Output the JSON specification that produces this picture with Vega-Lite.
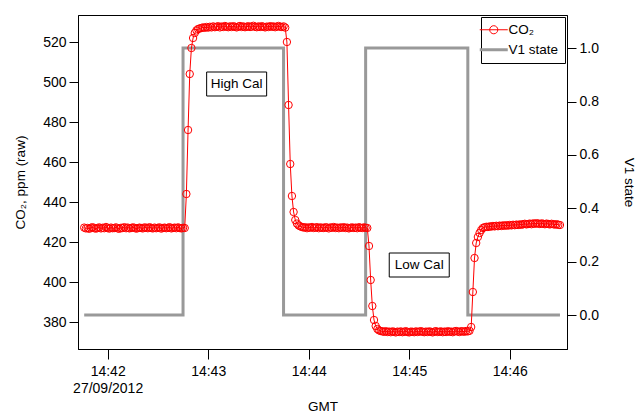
{
  "$schema": "https://vega.github.io/schema/vega-lite/v6.json",
  "width": 489,
  "height": 334,
  "autosize": "none",
  "padding": {"left": 78, "top": 15, "right": 72, "bottom": 66},
  "background": "white",
  "config": {
    "font": "Liberation Sans",
    "view": {"stroke": "#000", "strokeWidth": 1},
    "axis": {
      "grid": false,
      "domainColor": "#000",
      "tickColor": "#000",
      "labelColor": "#000",
      "titleColor": "#000",
      "labelFont": "Liberation Sans",
      "titleFont": "Liberation Sans",
      "labelFontSize": 14,
      "titleFontSize": 13.5,
      "titleFontWeight": "normal",
      "tickSize": 9,
      "labelPadding": 3
    },
    "legend": {
      "labelFont": "Liberation Sans",
      "labelColor": "#000",
      "labelFontSize": 13.5
    }
  },
  "encoding": {
    "x": {
      "field": "t",
      "type": "temporal",
      "title": "GMT",
      "scale": {
        "type": "utc",
        "domain": [
          {"year": 1900, "month": 1, "date": 1, "hours": 14, "minutes": 41, "seconds": 42, "milliseconds": 300, "utc": true},
          {"year": 1900, "month": 1, "date": 1, "hours": 14, "minutes": 46, "seconds": 34, "milliseconds": 200, "utc": true}
        ]
      },
      "axis": {
        "values": [
          {"year": 1900, "month": 1, "date": 1, "hours": 14, "minutes": 42, "utc": true},
          {"year": 1900, "month": 1, "date": 1, "hours": 14, "minutes": 43, "utc": true},
          {"year": 1900, "month": 1, "date": 1, "hours": 14, "minutes": 44, "utc": true},
          {"year": 1900, "month": 1, "date": 1, "hours": 14, "minutes": 45, "utc": true},
          {"year": 1900, "month": 1, "date": 1, "hours": 14, "minutes": 46, "utc": true}
        ],
        "labelExpr": "utcFormat(datum.value, '%H:%M') == '14:42' ? ['14:42', '27/09/2012'] : utcFormat(datum.value, '%H:%M')",
        "tickSize": 10,
        "labelPadding": 5,
        "labelLineHeight": 17,
        "titlePadding": 4
      }
    }
  },
  "layer": [
    {
      "data": {
        "values": [
          {"t": "14:41:46", "v1": 0},
          {"t": "14:42:45", "v1": 1},
          {"t": "14:43:45", "v1": 0},
          {"t": "14:44:34", "v1": 1},
          {"t": "14:45:35", "v1": 0},
          {"t": "14:46:30", "v1": 0}
        ],
        "format": {"parse": {"t": "utc:'%H:%M:%S'"}}
      },
      "mark": {"type": "line", "interpolate": "step-after", "strokeWidth": 3},
      "encoding": {
        "y": {
          "field": "v1",
          "type": "quantitative",
          "scale": {"domain": [-0.127, 1.124], "nice": false, "zero": false},
          "axis": {"orient": "right", "values": [0, 0.2, 0.4, 0.6, 0.8, 1], "format": ".1f", "title": "V1 state", "titlePadding": 23}
        },
        "color": {
          "datum": "V1 state",
          "type": "nominal",
          "scale": {"domain": ["CO₂", "V1 state"], "range": ["#ff0000", "#999999"]},
          "legend": {
            "orient": "top-right",
            "offset": 2,
            "title": null,
            "padding": 6,
            "rowPadding": 5,
            "symbolType": "stroke",
            "symbolSize": 784,
            "labelOffset": 8,
            "encode": {
              "legend": {
                "update": {
                  "stroke": {"value": "#000"},
                  "strokeWidth": {"value": 1},
                  "fill": {"value": "#fff"}
                }
              },
              "symbols": {
                "update": {
                  "shape": {"signal": "datum.value === 'CO₂' ? 'M-1,0H1M0.29,0A0.29,0.29,0,1,1,-0.29,0A0.29,0.29,0,1,1,0.29,0' : 'stroke'"},
                  "strokeWidth": {"signal": "datum.value === 'CO₂' ? 1 : 3"},
                  "fill": {"value": "transparent"}
                }
              }
            }
          }
        }
      }
    },
    {
      "data": {
        "values": [
          {"t": "14:41:46", "co2": 427.2}, {"t": "14:41:47", "co2": 426.8}, {"t": "14:41:48", "co2": 427.0}, {"t": "14:41:49", "co2": 426.6},
          {"t": "14:41:50", "co2": 427.1}, {"t": "14:41:51", "co2": 427.4}, {"t": "14:41:52", "co2": 426.9}, {"t": "14:41:53", "co2": 426.7},
          {"t": "14:41:54", "co2": 427.0}, {"t": "14:41:55", "co2": 427.3}, {"t": "14:41:56", "co2": 426.8}, {"t": "14:41:57", "co2": 427.1},
          {"t": "14:41:58", "co2": 426.9}, {"t": "14:41:59", "co2": 427.5},
          {"t": "14:42:00", "co2": 427.0}, {"t": "14:42:01", "co2": 426.7}, {"t": "14:42:02", "co2": 427.2}, {"t": "14:42:03", "co2": 426.9},
          {"t": "14:42:04", "co2": 427.0}, {"t": "14:42:05", "co2": 427.3}, {"t": "14:42:06", "co2": 426.8}, {"t": "14:42:07", "co2": 426.6},
          {"t": "14:42:08", "co2": 427.1}, {"t": "14:42:09", "co2": 427.0}, {"t": "14:42:10", "co2": 427.4}, {"t": "14:42:11", "co2": 426.9},
          {"t": "14:42:12", "co2": 427.2}, {"t": "14:42:13", "co2": 426.8}, {"t": "14:42:14", "co2": 427.0}, {"t": "14:42:15", "co2": 427.3},
          {"t": "14:42:16", "co2": 427.1}, {"t": "14:42:17", "co2": 426.7}, {"t": "14:42:18", "co2": 426.9}, {"t": "14:42:19", "co2": 427.2},
          {"t": "14:42:20", "co2": 427.0}, {"t": "14:42:21", "co2": 426.8}, {"t": "14:42:22", "co2": 427.3}, {"t": "14:42:23", "co2": 427.1},
          {"t": "14:42:24", "co2": 426.9}, {"t": "14:42:25", "co2": 427.4}, {"t": "14:42:26", "co2": 427.0}, {"t": "14:42:27", "co2": 426.8},
          {"t": "14:42:28", "co2": 427.2}, {"t": "14:42:29", "co2": 426.9}, {"t": "14:42:30", "co2": 427.1}, {"t": "14:42:31", "co2": 427.3},
          {"t": "14:42:32", "co2": 426.7}, {"t": "14:42:33", "co2": 427.0}, {"t": "14:42:34", "co2": 427.2}, {"t": "14:42:35", "co2": 426.9},
          {"t": "14:42:36", "co2": 427.1}, {"t": "14:42:37", "co2": 427.4}, {"t": "14:42:38", "co2": 426.8}, {"t": "14:42:39", "co2": 427.0},
          {"t": "14:42:40", "co2": 427.2}, {"t": "14:42:41", "co2": 426.9}, {"t": "14:42:42", "co2": 427.3}, {"t": "14:42:43", "co2": 427.0},
          {"t": "14:42:44", "co2": 426.8}, {"t": "14:42:45", "co2": 427.1}, {"t": "14:42:46", "co2": 427.0},
          {"t": "14:42:47", "co2": 444.0}, {"t": "14:42:48", "co2": 476.0}, {"t": "14:42:49", "co2": 504.0}, {"t": "14:42:50", "co2": 517.0},
          {"t": "14:42:51", "co2": 522.0}, {"t": "14:42:52", "co2": 524.5}, {"t": "14:42:53", "co2": 525.8}, {"t": "14:42:54", "co2": 526.5},
          {"t": "14:42:55", "co2": 526.8}, {"t": "14:42:56", "co2": 527.0}, {"t": "14:42:57", "co2": 527.3}, {"t": "14:42:58", "co2": 527.1},
          {"t": "14:42:59", "co2": 527.5},
          {"t": "14:43:00", "co2": 527.2}, {"t": "14:43:01", "co2": 527.6}, {"t": "14:43:02", "co2": 527.3}, {"t": "14:43:03", "co2": 527.8},
          {"t": "14:43:04", "co2": 527.4}, {"t": "14:43:05", "co2": 527.6}, {"t": "14:43:06", "co2": 527.9}, {"t": "14:43:07", "co2": 527.3},
          {"t": "14:43:08", "co2": 527.7}, {"t": "14:43:09", "co2": 527.5}, {"t": "14:43:10", "co2": 528.0}, {"t": "14:43:11", "co2": 527.6},
          {"t": "14:43:12", "co2": 527.4}, {"t": "14:43:13", "co2": 527.8}, {"t": "14:43:14", "co2": 527.5}, {"t": "14:43:15", "co2": 527.9},
          {"t": "14:43:16", "co2": 527.6}, {"t": "14:43:17", "co2": 527.3}, {"t": "14:43:18", "co2": 527.7}, {"t": "14:43:19", "co2": 528.0},
          {"t": "14:43:20", "co2": 527.5}, {"t": "14:43:21", "co2": 527.8}, {"t": "14:43:22", "co2": 527.4}, {"t": "14:43:23", "co2": 527.6},
          {"t": "14:43:24", "co2": 527.9}, {"t": "14:43:25", "co2": 527.5}, {"t": "14:43:26", "co2": 527.7}, {"t": "14:43:27", "co2": 528.1},
          {"t": "14:43:28", "co2": 527.6}, {"t": "14:43:29", "co2": 527.4}, {"t": "14:43:30", "co2": 527.8}, {"t": "14:43:31", "co2": 527.5},
          {"t": "14:43:32", "co2": 527.9}, {"t": "14:43:33", "co2": 527.6}, {"t": "14:43:34", "co2": 527.3}, {"t": "14:43:35", "co2": 527.7},
          {"t": "14:43:36", "co2": 527.5}, {"t": "14:43:37", "co2": 527.9}, {"t": "14:43:38", "co2": 527.6}, {"t": "14:43:39", "co2": 527.8},
          {"t": "14:43:40", "co2": 527.4}, {"t": "14:43:41", "co2": 527.7}, {"t": "14:43:42", "co2": 528.0}, {"t": "14:43:43", "co2": 527.6},
          {"t": "14:43:44", "co2": 527.5}, {"t": "14:43:45", "co2": 527.8}, {"t": "14:43:46", "co2": 527.2},
          {"t": "14:43:47", "co2": 520.0}, {"t": "14:43:48", "co2": 488.5}, {"t": "14:43:49", "co2": 459.0}, {"t": "14:43:50", "co2": 443.0},
          {"t": "14:43:51", "co2": 435.0}, {"t": "14:43:52", "co2": 431.0}, {"t": "14:43:53", "co2": 429.2}, {"t": "14:43:54", "co2": 428.3},
          {"t": "14:43:55", "co2": 427.8}, {"t": "14:43:56", "co2": 427.5}, {"t": "14:43:57", "co2": 427.2}, {"t": "14:43:58", "co2": 427.4},
          {"t": "14:43:59", "co2": 426.9},
          {"t": "14:44:00", "co2": 427.3}, {"t": "14:44:01", "co2": 427.1}, {"t": "14:44:02", "co2": 427.5}, {"t": "14:44:03", "co2": 427.0},
          {"t": "14:44:04", "co2": 427.2}, {"t": "14:44:05", "co2": 427.4}, {"t": "14:44:06", "co2": 426.9}, {"t": "14:44:07", "co2": 427.3},
          {"t": "14:44:08", "co2": 427.1}, {"t": "14:44:09", "co2": 427.0}, {"t": "14:44:10", "co2": 427.4}, {"t": "14:44:11", "co2": 427.2},
          {"t": "14:44:12", "co2": 426.8}, {"t": "14:44:13", "co2": 427.3}, {"t": "14:44:14", "co2": 427.1}, {"t": "14:44:15", "co2": 427.5},
          {"t": "14:44:16", "co2": 427.0}, {"t": "14:44:17", "co2": 427.2}, {"t": "14:44:18", "co2": 426.9}, {"t": "14:44:19", "co2": 427.3},
          {"t": "14:44:20", "co2": 427.1}, {"t": "14:44:21", "co2": 427.4}, {"t": "14:44:22", "co2": 427.0}, {"t": "14:44:23", "co2": 427.2},
          {"t": "14:44:24", "co2": 426.8}, {"t": "14:44:25", "co2": 427.1}, {"t": "14:44:26", "co2": 427.3}, {"t": "14:44:27", "co2": 427.0},
          {"t": "14:44:28", "co2": 427.2}, {"t": "14:44:29", "co2": 426.9}, {"t": "14:44:30", "co2": 427.4}, {"t": "14:44:31", "co2": 427.1},
          {"t": "14:44:32", "co2": 427.0}, {"t": "14:44:33", "co2": 427.3}, {"t": "14:44:34", "co2": 427.1}, {"t": "14:44:35", "co2": 427.0},
          {"t": "14:44:36", "co2": 418.0}, {"t": "14:44:37", "co2": 401.0}, {"t": "14:44:38", "co2": 388.0}, {"t": "14:44:39", "co2": 381.0},
          {"t": "14:44:40", "co2": 378.0}, {"t": "14:44:41", "co2": 376.5}, {"t": "14:44:42", "co2": 375.8}, {"t": "14:44:43", "co2": 375.5},
          {"t": "14:44:44", "co2": 375.3}, {"t": "14:44:45", "co2": 375.1}, {"t": "14:44:46", "co2": 375.4}, {"t": "14:44:47", "co2": 375.0},
          {"t": "14:44:48", "co2": 375.2}, {"t": "14:44:49", "co2": 374.9}, {"t": "14:44:50", "co2": 375.3}, {"t": "14:44:51", "co2": 375.1},
          {"t": "14:44:52", "co2": 374.8}, {"t": "14:44:53", "co2": 375.2}, {"t": "14:44:54", "co2": 375.0}, {"t": "14:44:55", "co2": 375.3},
          {"t": "14:44:56", "co2": 374.9}, {"t": "14:44:57", "co2": 375.1}, {"t": "14:44:58", "co2": 375.4}, {"t": "14:44:59", "co2": 375.0},
          {"t": "14:45:00", "co2": 374.8}, {"t": "14:45:01", "co2": 375.2}, {"t": "14:45:02", "co2": 375.1}, {"t": "14:45:03", "co2": 374.9},
          {"t": "14:45:04", "co2": 375.3}, {"t": "14:45:05", "co2": 375.0}, {"t": "14:45:06", "co2": 375.2}, {"t": "14:45:07", "co2": 375.4},
          {"t": "14:45:08", "co2": 375.1}, {"t": "14:45:09", "co2": 374.9}, {"t": "14:45:10", "co2": 375.2}, {"t": "14:45:11", "co2": 375.0},
          {"t": "14:45:12", "co2": 375.3}, {"t": "14:45:13", "co2": 375.1}, {"t": "14:45:14", "co2": 374.8}, {"t": "14:45:15", "co2": 375.2},
          {"t": "14:45:16", "co2": 375.4}, {"t": "14:45:17", "co2": 375.0}, {"t": "14:45:18", "co2": 375.1}, {"t": "14:45:19", "co2": 375.3},
          {"t": "14:45:20", "co2": 374.9}, {"t": "14:45:21", "co2": 375.2}, {"t": "14:45:22", "co2": 375.0}, {"t": "14:45:23", "co2": 375.4},
          {"t": "14:45:24", "co2": 375.1}, {"t": "14:45:25", "co2": 375.2}, {"t": "14:45:26", "co2": 374.9}, {"t": "14:45:27", "co2": 375.3},
          {"t": "14:45:28", "co2": 375.5}, {"t": "14:45:29", "co2": 375.2}, {"t": "14:45:30", "co2": 375.0}, {"t": "14:45:31", "co2": 375.4},
          {"t": "14:45:32", "co2": 375.3}, {"t": "14:45:33", "co2": 375.1}, {"t": "14:45:34", "co2": 375.5}, {"t": "14:45:35", "co2": 375.3},
          {"t": "14:45:36", "co2": 375.6}, {"t": "14:45:37", "co2": 377.5}, {"t": "14:45:38", "co2": 395.0}, {"t": "14:45:39", "co2": 412.0},
          {"t": "14:45:40", "co2": 419.5}, {"t": "14:45:41", "co2": 422.5}, {"t": "14:45:42", "co2": 424.5}, {"t": "14:45:43", "co2": 426.0},
          {"t": "14:45:44", "co2": 427.0}, {"t": "14:45:45", "co2": 427.4}, {"t": "14:45:46", "co2": 427.6}, {"t": "14:45:47", "co2": 427.5},
          {"t": "14:45:48", "co2": 427.8}, {"t": "14:45:49", "co2": 427.7}, {"t": "14:45:50", "co2": 428.0}, {"t": "14:45:51", "co2": 427.8},
          {"t": "14:45:52", "co2": 428.1}, {"t": "14:45:53", "co2": 427.9}, {"t": "14:45:54", "co2": 428.2}, {"t": "14:45:55", "co2": 428.0},
          {"t": "14:45:56", "co2": 428.3}, {"t": "14:45:57", "co2": 428.1}, {"t": "14:45:58", "co2": 428.4}, {"t": "14:45:59", "co2": 428.2},
          {"t": "14:46:00", "co2": 428.5}, {"t": "14:46:01", "co2": 428.3}, {"t": "14:46:02", "co2": 428.6}, {"t": "14:46:03", "co2": 428.4},
          {"t": "14:46:04", "co2": 428.7}, {"t": "14:46:05", "co2": 428.5}, {"t": "14:46:06", "co2": 428.8}, {"t": "14:46:07", "co2": 428.6},
          {"t": "14:46:08", "co2": 428.9}, {"t": "14:46:09", "co2": 429.1}, {"t": "14:46:10", "co2": 428.8}, {"t": "14:46:11", "co2": 429.0},
          {"t": "14:46:12", "co2": 429.2}, {"t": "14:46:13", "co2": 428.9}, {"t": "14:46:14", "co2": 429.3}, {"t": "14:46:15", "co2": 429.1},
          {"t": "14:46:16", "co2": 429.4}, {"t": "14:46:17", "co2": 429.2}, {"t": "14:46:18", "co2": 429.0}, {"t": "14:46:19", "co2": 429.3},
          {"t": "14:46:20", "co2": 429.1}, {"t": "14:46:21", "co2": 428.9}, {"t": "14:46:22", "co2": 429.2}, {"t": "14:46:23", "co2": 429.0},
          {"t": "14:46:24", "co2": 428.8}, {"t": "14:46:25", "co2": 429.1}, {"t": "14:46:26", "co2": 428.9}, {"t": "14:46:27", "co2": 428.7},
          {"t": "14:46:28", "co2": 428.9}, {"t": "14:46:29", "co2": 428.6}, {"t": "14:46:30", "co2": 428.5}
        ],
        "format": {"parse": {"t": "utc:'%H:%M:%S'"}}
      },
      "encoding": {
        "y": {
          "field": "co2",
          "type": "quantitative",
          "scale": {"domain": [366.5, 533.5], "nice": false, "zero": false},
          "axis": {"orient": "left", "values": [380, 400, 420, 440, 460, 480, 500, 520], "title": "CO₂, ppm (raw)", "titlePadding": 15}
        }
      },
      "layer": [
        {
          "mark": {"type": "line", "strokeWidth": 1},
          "encoding": {"color": {"datum": "CO₂", "type": "nominal"}}
        },
        {
          "mark": {"type": "point", "shape": "circle", "filled": false, "size": 55, "strokeWidth": 1, "opacity": 1},
          "encoding": {"color": {"datum": "CO₂", "type": "nominal"}}
        },
        {
          "data": {
            "values": [
              {"t": "14:43:17", "co2": 499, "label": "High Cal"},
              {"t": "14:45:06", "co2": 408.5, "label": "Low Cal"}
            ],
            "format": {"parse": {"t": "utc:'%H:%M:%S'"}}
          },
          "layer": [
            {
              "mark": {"type": "point", "shape": "M-1,-0.4H1V0.4H-1Z", "size": 3600, "filled": true, "fill": "#fff", "stroke": "#000", "strokeWidth": 1, "opacity": 1}
            },
            {
              "mark": {"type": "text", "fontSize": 13.5, "font": "Liberation Sans", "color": "#000", "align": "center", "baseline": "middle"},
              "encoding": {"text": {"field": "label"}}
            }
          ]
        }
      ]
    }
  ],
  "resolve": {"scale": {"y": "independent"}}
}
